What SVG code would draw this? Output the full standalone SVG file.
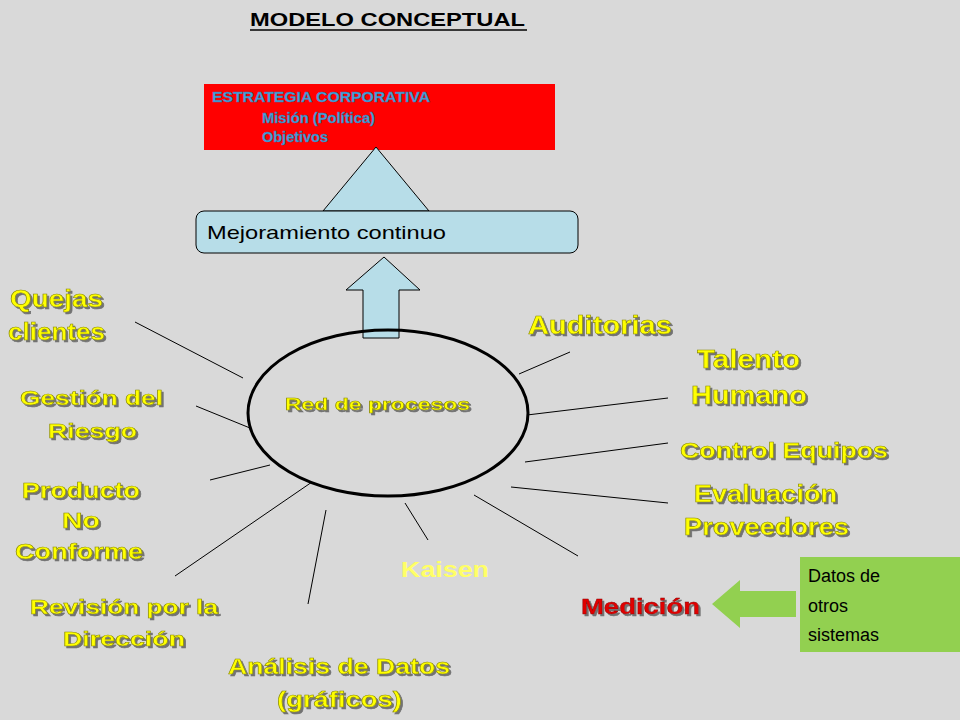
<svg xmlns="http://www.w3.org/2000/svg" width="960" height="720" viewBox="0 0 960 720">
<defs>
<filter id="sh" x="-10%" y="-10%" width="130%" height="140%"><feDropShadow dx="2" dy="2" stdDeviation="0.6" flood-color="#666" flood-opacity="0.9"/></filter>
</defs>
<style>
.y{font-family:"Liberation Sans",Arial,sans-serif;font-weight:bold;fill:#ffff00;stroke:#8a8a00;stroke-width:0.6;filter:url(#sh)}
.s{font-family:"Liberation Sans",Arial,sans-serif}
.c line{stroke:#000;stroke-width:1}
</style>
<rect width="960" height="720" fill="#d9d9d9"/>
<text x="250" y="26" class="s" font-size="18" font-weight="bold" textLength="275" lengthAdjust="spacingAndGlyphs">MODELO CONCEPTUAL</text>
<line x1="250" y1="30" x2="527" y2="30" stroke="#000" stroke-width="1.5"/>
<g id="estrategia">
<rect x="204" y="84" width="351" height="66" fill="#ff0000"/>
<g class="s" font-size="14" font-weight="bold" fill="#4aa3df" stroke="#2a6fa0" stroke-width="0.4" lengthAdjust="spacingAndGlyphs">
<text x="212" y="102" textLength="218" lengthAdjust="spacingAndGlyphs">ESTRATEGIA CORPORATIVA</text>
<text x="262" y="123" textLength="113" lengthAdjust="spacingAndGlyphs">Misión (Política)</text>
<text x="262" y="142" textLength="66" lengthAdjust="spacingAndGlyphs">Objetivos</text>
</g>
</g>
<g id="triangulo"><polygon points="323,211 429,211 376,147" fill="#b7dde8" stroke="#000"/></g>
<g id="mejoramiento">
<rect x="196" y="211" width="382" height="42" rx="8" fill="#b7dde8" stroke="#000"/>
<text x="207" y="239" class="s" font-size="19" textLength="239" lengthAdjust="spacingAndGlyphs">Mejoramiento continuo</text>
</g>
<g id="flecha"><polygon points="363,338 399,338 399,290 420,290 384,257 346,290 363,290" fill="#b7dde8" stroke="#000"/></g>
<g id="red">
<ellipse cx="388" cy="413" rx="140" ry="83" fill="none" stroke="#000" stroke-width="3"/>
<text x="285" y="410" class="y" font-size="17" textLength="185" lengthAdjust="spacingAndGlyphs">Red de procesos</text>
</g>
<g class="c">
<line x1="135" y1="322" x2="243" y2="378"/>
<line x1="196" y1="406" x2="250" y2="428"/>
<line x1="210" y1="480" x2="270" y2="465"/>
<line x1="175" y1="576" x2="312" y2="482"/>
<line x1="308" y1="604" x2="326" y2="510"/>
<line x1="405" y1="503" x2="428" y2="540"/>
<line x1="474" y1="495" x2="578" y2="556"/>
<line x1="511" y1="487" x2="668" y2="503"/>
<line x1="525" y1="462" x2="668" y2="443"/>
<line x1="527" y1="415" x2="668" y2="398"/>
<line x1="519" y1="374" x2="570" y2="352"/>
</g>
<g id="labels">
<text class="y" font-size="23" x="10" y="307" textLength="93" lengthAdjust="spacingAndGlyphs">Quejas</text>
<text class="y" font-size="23" x="8" y="340" textLength="97" lengthAdjust="spacingAndGlyphs">clientes</text>
<text class="y" font-size="21" x="20" y="405" textLength="143" lengthAdjust="spacingAndGlyphs">Gestión del</text>
<text class="y" font-size="21" x="48" y="438" textLength="89" lengthAdjust="spacingAndGlyphs">Riesgo</text>
<text class="y" font-size="22" x="22" y="498" textLength="118" lengthAdjust="spacingAndGlyphs">Producto</text>
<text class="y" font-size="22" x="62" y="528" textLength="38" lengthAdjust="spacingAndGlyphs">No</text>
<text class="y" font-size="22" x="15" y="559" textLength="128" lengthAdjust="spacingAndGlyphs">Conforme</text>
<text class="y" font-size="21" x="30" y="614" textLength="188" lengthAdjust="spacingAndGlyphs">Revisión por la</text>
<text class="y" font-size="21" x="63" y="646" textLength="122" lengthAdjust="spacingAndGlyphs">Dirección</text>
<text class="y" font-size="22" x="228" y="674" textLength="222" lengthAdjust="spacingAndGlyphs">Análisis de Datos</text>
<text class="y" font-size="22" x="277" y="707" textLength="125" lengthAdjust="spacingAndGlyphs">(gráficos)</text>
<text x="401" y="577" class="s" font-size="22" font-weight="bold" fill="#ffff66" textLength="88" lengthAdjust="spacingAndGlyphs">Kaisen</text>
<text x="581" y="614" class="s" font-size="22" font-weight="bold" fill="#e00000" stroke="#800" stroke-width="0.4" filter="url(#sh)" textLength="119" lengthAdjust="spacingAndGlyphs">Medición</text>
<text x="528" y="334" class="y" font-size="26" textLength="144" lengthAdjust="spacingAndGlyphs">Auditorias</text>
<text class="y" font-size="26" x="697" y="368" textLength="103" lengthAdjust="spacingAndGlyphs">Talento</text>
<text class="y" font-size="26" x="691" y="404" textLength="116" lengthAdjust="spacingAndGlyphs">Humano</text>
<text x="680" y="458" class="y" font-size="22" textLength="208" lengthAdjust="spacingAndGlyphs">Control Equipos</text>
<text class="y" font-size="23" x="694" y="502" textLength="143" lengthAdjust="spacingAndGlyphs">Evaluación</text>
<text class="y" font-size="23" x="684" y="535" textLength="165" lengthAdjust="spacingAndGlyphs">Proveedores</text>
</g>
<g id="flecha-verde"><polygon points="712,604 740,580 740,591 796,591 796,617 740,617 740,628" fill="#92d050"/></g>
<g id="datos">
<rect x="800" y="557" width="160" height="95" fill="#92d050"/>
<text class="s" font-size="18" fill="#000"><tspan x="808" y="582">Datos de</tspan><tspan x="808" y="612">otros</tspan><tspan x="808" y="641">sistemas</tspan></text>
</g>
</svg>
